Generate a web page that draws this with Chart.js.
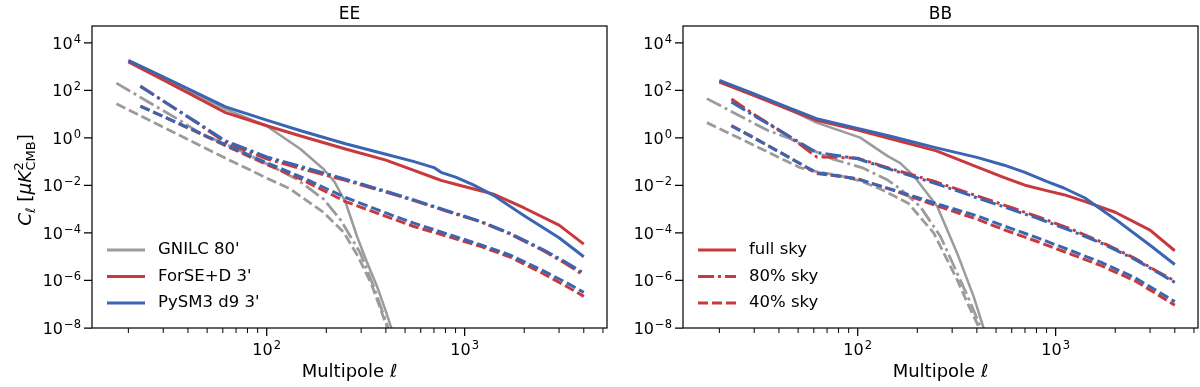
<!DOCTYPE html>
<html>
<head>
<meta charset="utf-8">
<script src="https://cdn.jsdelivr.net/npm/chart.js@4.4.1/dist/chart.umd.min.js"></script>
<style>
  body { margin: 0; background: #fff; }
  #wrap { position: relative; width: 1200px; height: 387px; }
  #wrap canvas { position: absolute; top: 0; }
</style>
</head>
<body>
<div id="wrap">
  <canvas id="ee" width="620" height="387" style="left:0"></canvas>
  <canvas id="bb" width="600" height="387" style="left:600px"></canvas>
</div>
<script>
// ---- axes ----
const yTickValues = [1e-8, 1e-6, 1e-4, 1e-2, 1e0, 1e2, 1e4];
const xTickValues = [100, 1000];
const xMinorValues = [20, 30, 40, 50, 60, 70, 80, 90, 200, 300, 400, 500, 600, 700, 800, 900, 2000, 3000, 4000, 5000];

// ---- EE panel ----
const eeFullEll = [20, 30, 45, 62, 100, 150, 250, 400, 550, 700, 760, 900, 1100, 1400, 2000, 3000, 4000];
const eeBlueFull = [1820, 372, 72.4, 20.0, 5.56, 1.95, 0.562, 0.204, 0.102, 0.0562, 0.0355, 0.0224, 0.0107, 3.8e-3, 5.25e-4, 6.3e-5, 1.0e-5];
const eeRedFull = [1550, 275, 46.8, 11.5, 3.24, 1.17, 0.339, 0.115, 0.0437, 0.0209, 0.0162, 0.0112, 7.24e-3, 4.27e-3, 1.12e-3, 2.14e-4, 3.39e-5];

const eeMaskEll = [23, 30, 45, 62, 100, 150, 250, 400, 550, 800, 1200, 1700, 2500, 3200, 4000];
const eeBlue80 = [145, 35.5, 4.17, 0.741, 0.158, 0.0617, 0.0182, 5.62e-3, 2.51e-3, 9.12e-4, 3.09e-4, 9.55e-5, 1.95e-5, 6.31e-6, 2.0e-6];
const eeRed80 = [151, 35.5, 3.98, 0.631, 0.132, 0.0501, 0.0162, 5.25e-3, 2.34e-3, 8.51e-4, 2.95e-4, 8.91e-5, 1.78e-5, 5.5e-6, 1.66e-6];
const eeBlue40 = [20.9, 7.94, 1.74, 0.501, 0.0891, 0.0224, 3.09e-3, 6.92e-4, 2.63e-4, 9.55e-5, 3.24e-5, 1.17e-5, 2.51e-6, 8.91e-7, 3.16e-7];
const eeRed40 = [21.9, 7.94, 1.66, 0.468, 0.0759, 0.0178, 2.09e-3, 5.01e-4, 1.91e-4, 7.59e-5, 2.75e-5, 9.55e-6, 1.91e-6, 6.31e-7, 2.14e-7];

const eeGrayFullEll = [20, 30, 45, 62, 100, 148, 194, 220, 250, 286, 320, 361, 400, 430, 445];
const eeGrayFull = [1660, 316, 63.1, 16.2, 3.16, 0.339, 0.0479, 0.0141, 2.0e-3, 7.08e-5, 6.31e-6, 5.62e-7, 5.01e-8, 7.94e-9, 2.51e-9];
const eeGray80Ell = [17.4, 25, 35, 46, 74, 97, 142, 194, 236, 297, 347, 408, 425];
const eeGray80 = [200, 33.9, 6.61, 1.58, 0.282, 0.0912, 0.0182, 2.63e-3, 3.55e-4, 1.45e-5, 5.62e-7, 1.17e-8, 3.16e-9];
const eeGray40Ell = [17.4, 25, 35, 61, 100, 132, 194, 245, 290, 340, 405, 420];
const eeGray40 = [27.5, 6.03, 1.48, 0.148, 0.0204, 6.92e-3, 7.24e-4, 1.05e-4, 1.0e-5, 6.31e-7, 1.12e-8, 3.16e-9];

// ---- BB panel ----
const bbFullEll = [20, 30, 45, 62, 100, 150, 250, 400, 550, 700, 900, 1100, 1400, 2000, 3000, 4000];
const bbBlueFull = [263, 70.8, 18.2, 6.46, 2.51, 1.12, 0.380, 0.151, 0.0708, 0.0355, 0.0148, 7.76e-3, 3.02e-3, 3.8e-4, 3.02e-5, 4.68e-6];
const bbRedFull = [224, 60.3, 15.5, 5.5, 2.14, 0.871, 0.282, 0.0603, 0.0214, 0.0102, 6.03e-3, 4.07e-3, 2.14e-3, 7.41e-4, 1.32e-4, 1.78e-5];

const bbMaskEll = [23, 30, 45, 62, 80, 100, 150, 250, 400, 550, 800, 1200, 1700, 2500, 3200, 4000];
const bbBlue80 = [32.4, 8.51, 1.17, 0.24, 0.178, 0.132, 0.0437, 0.0117, 3.02e-3, 1.23e-3, 4.27e-4, 1.23e-4, 3.72e-5, 7.94e-6, 2.45e-6, 8.32e-7];
const bbRed80 = [42.7, 9.55, 1.17, 0.158, 0.151, 0.138, 0.0479, 0.0138, 3.63e-3, 1.48e-3, 5.01e-4, 1.45e-4, 4.17e-5, 8.71e-6, 2.63e-6, 9.55e-7];
const bbBlue40 = [3.16, 0.977, 0.151, 0.0347, 0.0251, 0.0182, 6.61e-3, 1.70e-3, 5.25e-4, 1.95e-4, 6.46e-5, 1.78e-5, 5.75e-6, 1.35e-6, 3.98e-7, 1.29e-7];
const bbRed40 = [3.31, 1.0, 0.151, 0.0316, 0.024, 0.0191, 6.31e-3, 1.41e-3, 3.8e-4, 1.35e-4, 4.47e-5, 1.26e-5, 4.17e-6, 1.0e-6, 2.88e-7, 9.12e-8];

const bbGrayFullEll = [20, 30, 45, 62, 103, 141, 164, 192, 252, 318, 385, 430, 445];
const bbGrayFull = [240, 63.1, 15.8, 4.37, 1.02, 0.174, 0.0871, 0.0251, 1.32e-3, 1.41e-5, 2.14e-7, 1.17e-8, 3.16e-9];
const bbGray80Ell = [17.3, 25, 35, 46, 62, 75, 105, 140, 164, 207, 262, 318, 370, 417, 430];
const bbGray80 = [44.7, 8.91, 2.09, 0.891, 0.251, 0.126, 0.0562, 0.0178, 7.08e-3, 1.29e-3, 7.08e-5, 2.04e-6, 1.26e-7, 1.12e-8, 3.16e-9];
const bbGray40Ell = [17.3, 25, 35, 51, 62, 80, 103, 130, 152, 180, 242, 318, 370, 408, 420];
const bbGray40 = [4.37, 1.0, 0.257, 0.0562, 0.038, 0.0263, 0.0155, 7.08e-3, 3.63e-3, 1.78e-3, 1.0e-4, 1.07e-6, 6.31e-8, 1.17e-8, 3.16e-9];

// ---- styles ----
const RED = '#c8393c';
const BLUE = '#3a65b3';
const GRAY = '#9b9b9b';
const SOLID = [];
const DASHDOT = [16, 4, 3, 4];
const DASHED = [10, 4];
const FONT = "'DejaVu Sans', sans-serif";

Chart.defaults.font.family = FONT;
Chart.defaults.color = '#000';

function line(ell, vals, color, dash, width) {
    return {
        data: ell.map((x, i) => ({x: x, y: vals[i]})),
        borderColor: color,
        borderDash: dash,
        borderWidth: width,
        borderJoinStyle: 'round',
        showLine: true,
        pointRadius: 0,
        pointHoverRadius: 0,
        fill: false,
        tension: 0
    };
}

// "10" with a raised exponent, like matplotlib's log tick labels
function drawPow(ctx, v, x, base, align) {
    const e = Math.round(Math.log10(v));
    const mant = '10';
    const exp = String(e).replace('-', '−');
    ctx.font = `16px ${FONT}`;
    const wm = ctx.measureText(mant).width;
    ctx.font = `11.5px ${FONT}`;
    const we = ctx.measureText(exp).width + 1;
    const left = align === 'right' ? x - wm - we : x - (wm + we) / 2;
    ctx.textAlign = 'left';
    ctx.textBaseline = 'alphabetic';
    ctx.fillStyle = '#000';
    ctx.font = `16px ${FONT}`;
    ctx.fillText(mant, left, base);
    ctx.font = `11.5px ${FONT}`;
    ctx.fillText(exp, left + wm + 1, base - 6);
}

function drawYLabel(ctx, bx, cy) {
    const big = 18.5, small = 13;
    const parts = [
        {t: 'C', f: `italic ${big}px ${FONT}`, dy: 0},
        {t: 'ℓ', f: `italic ${small}px ${FONT}`, dy: 4},
        {t: ' [', f: `${big}px ${FONT}`, dy: 0},
        {t: 'μ', f: `italic ${big}px ${FONT}`, dy: 0},
        {t: 'K', f: `italic ${big}px ${FONT}`, dy: 0},
        {stack: [{t: '2', f: `${small}px ${FONT}`, dy: -8}, {t: 'CMB', f: `${small}px ${FONT}`, dy: 4}]},
        {t: ']', f: `${big}px ${FONT}`, dy: 0}
    ];
    let total = 0;
    parts.forEach(p => {
        if (p.stack) {
            p.w = Math.max(...p.stack.map(s => { ctx.font = s.f; return ctx.measureText(s.t).width; }));
        } else {
            ctx.font = p.f;
            p.w = ctx.measureText(p.t).width;
        }
        total += p.w;
    });
    ctx.save();
    ctx.translate(bx, cy);
    ctx.rotate(-Math.PI / 2);
    ctx.fillStyle = '#000';
    ctx.textBaseline = 'alphabetic';
    ctx.textAlign = 'left';
    let x = -total / 2;
    parts.forEach(p => {
        (p.stack || [p]).forEach(s => {
            ctx.font = s.f;
            ctx.fillText(s.t, x, s.dy);
        });
        x += p.w;
    });
    ctx.restore();
}

const decor = {
    id: 'decor',
    afterDatasetsDraw(chart, args, o) {
        const {ctx, chartArea: a, scales: {x, y}} = chart;
        ctx.save();
        ctx.strokeStyle = '#000';
        ctx.lineWidth = 1.25;
        ctx.beginPath();
        xTickValues.forEach(v => {
            const p = x.getPixelForValue(v);
            ctx.moveTo(p, a.bottom); ctx.lineTo(p, a.bottom + 8);
        });
        yTickValues.forEach(v => {
            const p = y.getPixelForValue(v);
            ctx.moveTo(a.left, p); ctx.lineTo(a.left - 8, p);
        });
        ctx.stroke();
        ctx.lineWidth = 1;
        ctx.beginPath();
        xMinorValues.forEach(v => {
            const p = x.getPixelForValue(v);
            if (p < a.left || p > a.right) return;
            ctx.moveTo(p, a.bottom); ctx.lineTo(p, a.bottom + 5);
        });
        ctx.stroke();

        // tick labels
        xTickValues.forEach(v => drawPow(ctx, v, x.getPixelForValue(v), a.bottom + 26.5, 'center'));
        yTickValues.forEach(v => drawPow(ctx, v, a.left - 11, y.getPixelForValue(v) + 6, 'right'));

        // legend
        ctx.font = `16.5px ${FONT}`;
        ctx.textBaseline = 'middle';
        ctx.textAlign = 'left';
        o.legend.forEach((it, i) => {
            const yy = a.bottom - 78 + i * 26.5;
            ctx.save();
            ctx.strokeStyle = it.color;
            ctx.lineWidth = 2.8;
            ctx.setLineDash(it.dash);
            ctx.beginPath();
            ctx.moveTo(a.left + 15, yy); ctx.lineTo(a.left + 53, yy);
            ctx.stroke();
            ctx.restore();
            ctx.fillStyle = '#000';
            ctx.fillText(it.label, a.left + 66, yy);
        });

        // frame
        ctx.lineWidth = 1.3;
        ctx.strokeStyle = '#111';
        ctx.strokeRect(a.left, a.top, a.right - a.left, a.bottom - a.top);

        // panel title
        ctx.font = `17px ${FONT}`;
        ctx.textAlign = 'center';
        ctx.textBaseline = 'middle';
        ctx.fillStyle = '#000';
        ctx.fillText(o.title, (a.left + a.right) / 2, 15);

        if (o.ylabel) drawYLabel(ctx, 31, (a.top + a.bottom) / 2 + 3);
        ctx.restore();
    }
};

function makeChart(id, yWidth, padRight, datasets, title, legend, ylabel) {
    return new Chart(document.getElementById(id), {
        type: 'scatter',
        data: {datasets: datasets},
        options: {
            responsive: false,
            animation: false,
            events: [],
            layout: {padding: {left: 0, right: padRight, top: 26, bottom: 0}},
            plugins: {
                legend: {display: false},
                tooltip: {enabled: false},
                decor: {title: title, legend: legend, ylabel: ylabel}
            },
            scales: {
                x: {
                    type: 'logarithmic',
                    position: 'bottom',
                    min: 13.1,
                    max: 5240,
                    afterBuildTicks: s => { s.ticks = xTickValues.map(v => ({value: v})); },
                    afterFit: s => { s.height = 59; },
                    ticks: {display: false},
                    grid: {drawOnChartArea: false, drawTicks: false, color: 'rgba(0,0,0,0)'},
                    border: {display: false},
                    title: {display: true, text: 'Multipole ℓ', font: {size: 18}, padding: {top: 0, bottom: 4}}
                },
                y: {
                    type: 'logarithmic',
                    position: 'left',
                    min: 1e-8,
                    max: 5.08e4,
                    afterBuildTicks: s => { s.ticks = yTickValues.map(v => ({value: v})); },
                    afterFit: s => { s.width = yWidth; },
                    ticks: {display: false},
                    grid: {drawOnChartArea: false, drawTicks: false, color: 'rgba(0,0,0,0)'},
                    border: {display: false}
                }
            }
        },
        plugins: [decor]
    });
}

makeChart('ee', 92, 13, [
    line(eeFullEll, eeBlueFull, BLUE, SOLID, 3),
    line(eeMaskEll, eeBlue80, BLUE, DASHDOT, 3),
    line(eeMaskEll, eeBlue40, BLUE, DASHED, 3),
    line(eeFullEll, eeRedFull, RED, SOLID, 3),
    line(eeMaskEll, eeRed80, RED, DASHDOT, 3),
    line(eeMaskEll, eeRed40, RED, DASHED, 3),
    line(eeGrayFullEll, eeGrayFull, GRAY, SOLID, 2.5),
    line(eeGray80Ell, eeGray80, GRAY, DASHDOT, 2.8),
    line(eeGray40Ell, eeGray40, GRAY, DASHED, 2.8)
], 'EE', [
    {label: "GNILC 80'", color: GRAY, dash: SOLID},
    {label: "ForSE+D 3'", color: RED, dash: SOLID},
    {label: "PySM3 d9 3'", color: BLUE, dash: SOLID}
], true);

makeChart('bb', 83, 2, [
    line(bbFullEll, bbBlueFull, BLUE, SOLID, 3),
    line(bbMaskEll, bbBlue80, BLUE, DASHDOT, 3),
    line(bbMaskEll, bbBlue40, BLUE, DASHED, 3),
    line(bbFullEll, bbRedFull, RED, SOLID, 3),
    line(bbMaskEll, bbRed80, RED, DASHDOT, 3),
    line(bbMaskEll, bbRed40, RED, DASHED, 3),
    line(bbGrayFullEll, bbGrayFull, GRAY, SOLID, 2.5),
    line(bbGray80Ell, bbGray80, GRAY, DASHDOT, 2.8),
    line(bbGray40Ell, bbGray40, GRAY, DASHED, 2.8)
], 'BB', [
    {label: 'full sky', color: RED, dash: SOLID},
    {label: '80% sky', color: RED, dash: DASHDOT},
    {label: '40% sky', color: RED, dash: DASHED}
], false);
</script>
</body>
</html>
